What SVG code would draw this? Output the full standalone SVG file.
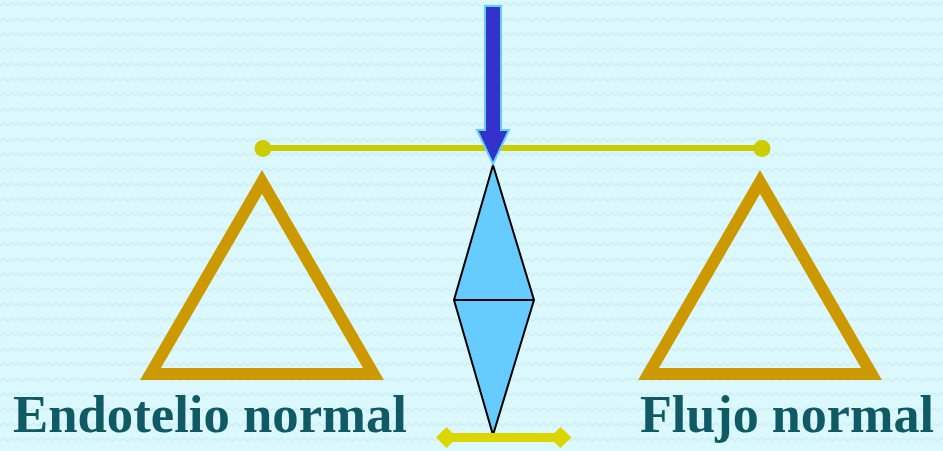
<svg xmlns="http://www.w3.org/2000/svg" width="943" height="451" viewBox="0 0 943 451">
<defs>
<pattern id="bg" x="0" y="0" width="15" height="15" patternUnits="userSpaceOnUse">
<rect width="15" height="15" fill="#dbf8fc"/>
<path d="M0,6 L3.75,3 L7.5,6 L11.25,3 L15,6" fill="none" stroke="#cdeff5" stroke-width="1.5"/>
</pattern>
<style>
.tri{fill:none;stroke:#cc9900;stroke-width:12;stroke-linejoin:miter}
.lbl{font-family:"Liberation Serif","Times New Roman",serif;font-weight:bold;font-size:53px;fill:#105a66}
</style>
</defs>
<rect width="943" height="451" fill="url(#bg)"/>
<g id="connectors">
<line x1="263" y1="148" x2="762" y2="148" stroke="#cccc00" stroke-width="6"/>
<circle cx="263" cy="148.5" r="8.5" fill="#cccc00"/>
<circle cx="762" cy="148.5" r="8.5" fill="#cccc00"/>
</g>
<g id="left-triangle"><polygon class="tri" points="262,182 150.5,374 373.5,374"/></g>
<g id="right-triangle"><polygon class="tri" points="760,182 648.5,374 871.5,374"/></g>
<g id="fulcrum">
<polygon points="493,165 534,300 493,435 454,300" fill="#66ccff" stroke="#000" stroke-width="2" stroke-linejoin="miter"/>
<line x1="454" y1="300" x2="534" y2="300" stroke="#000" stroke-width="2"/>
</g>
<g id="base">
<line x1="446" y1="437.5" x2="560" y2="437.5" stroke="#dcd600" stroke-width="9"/>
<polygon points="436,437.5 446.5,427 457,437.5 446.5,448" fill="#dcd600"/>
<polygon points="549.5,437.5 560.5,427 571.5,437.5 560.5,448" fill="#dcd600"/>
</g>
<g id="arrow">
<polygon points="485,6 501,6 501,130 509,130 493,164 477,130 485,130" fill="#3333cc" stroke="#66ccff" stroke-width="2" stroke-linejoin="miter"/>
</g>
<g id="label-left"><text class="lbl" x="13" y="432" textLength="394" lengthAdjust="spacingAndGlyphs">Endotelio normal</text></g>
<g id="label-right"><text class="lbl" x="640" y="432" textLength="294" lengthAdjust="spacingAndGlyphs">Flujo normal</text></g>
</svg>
